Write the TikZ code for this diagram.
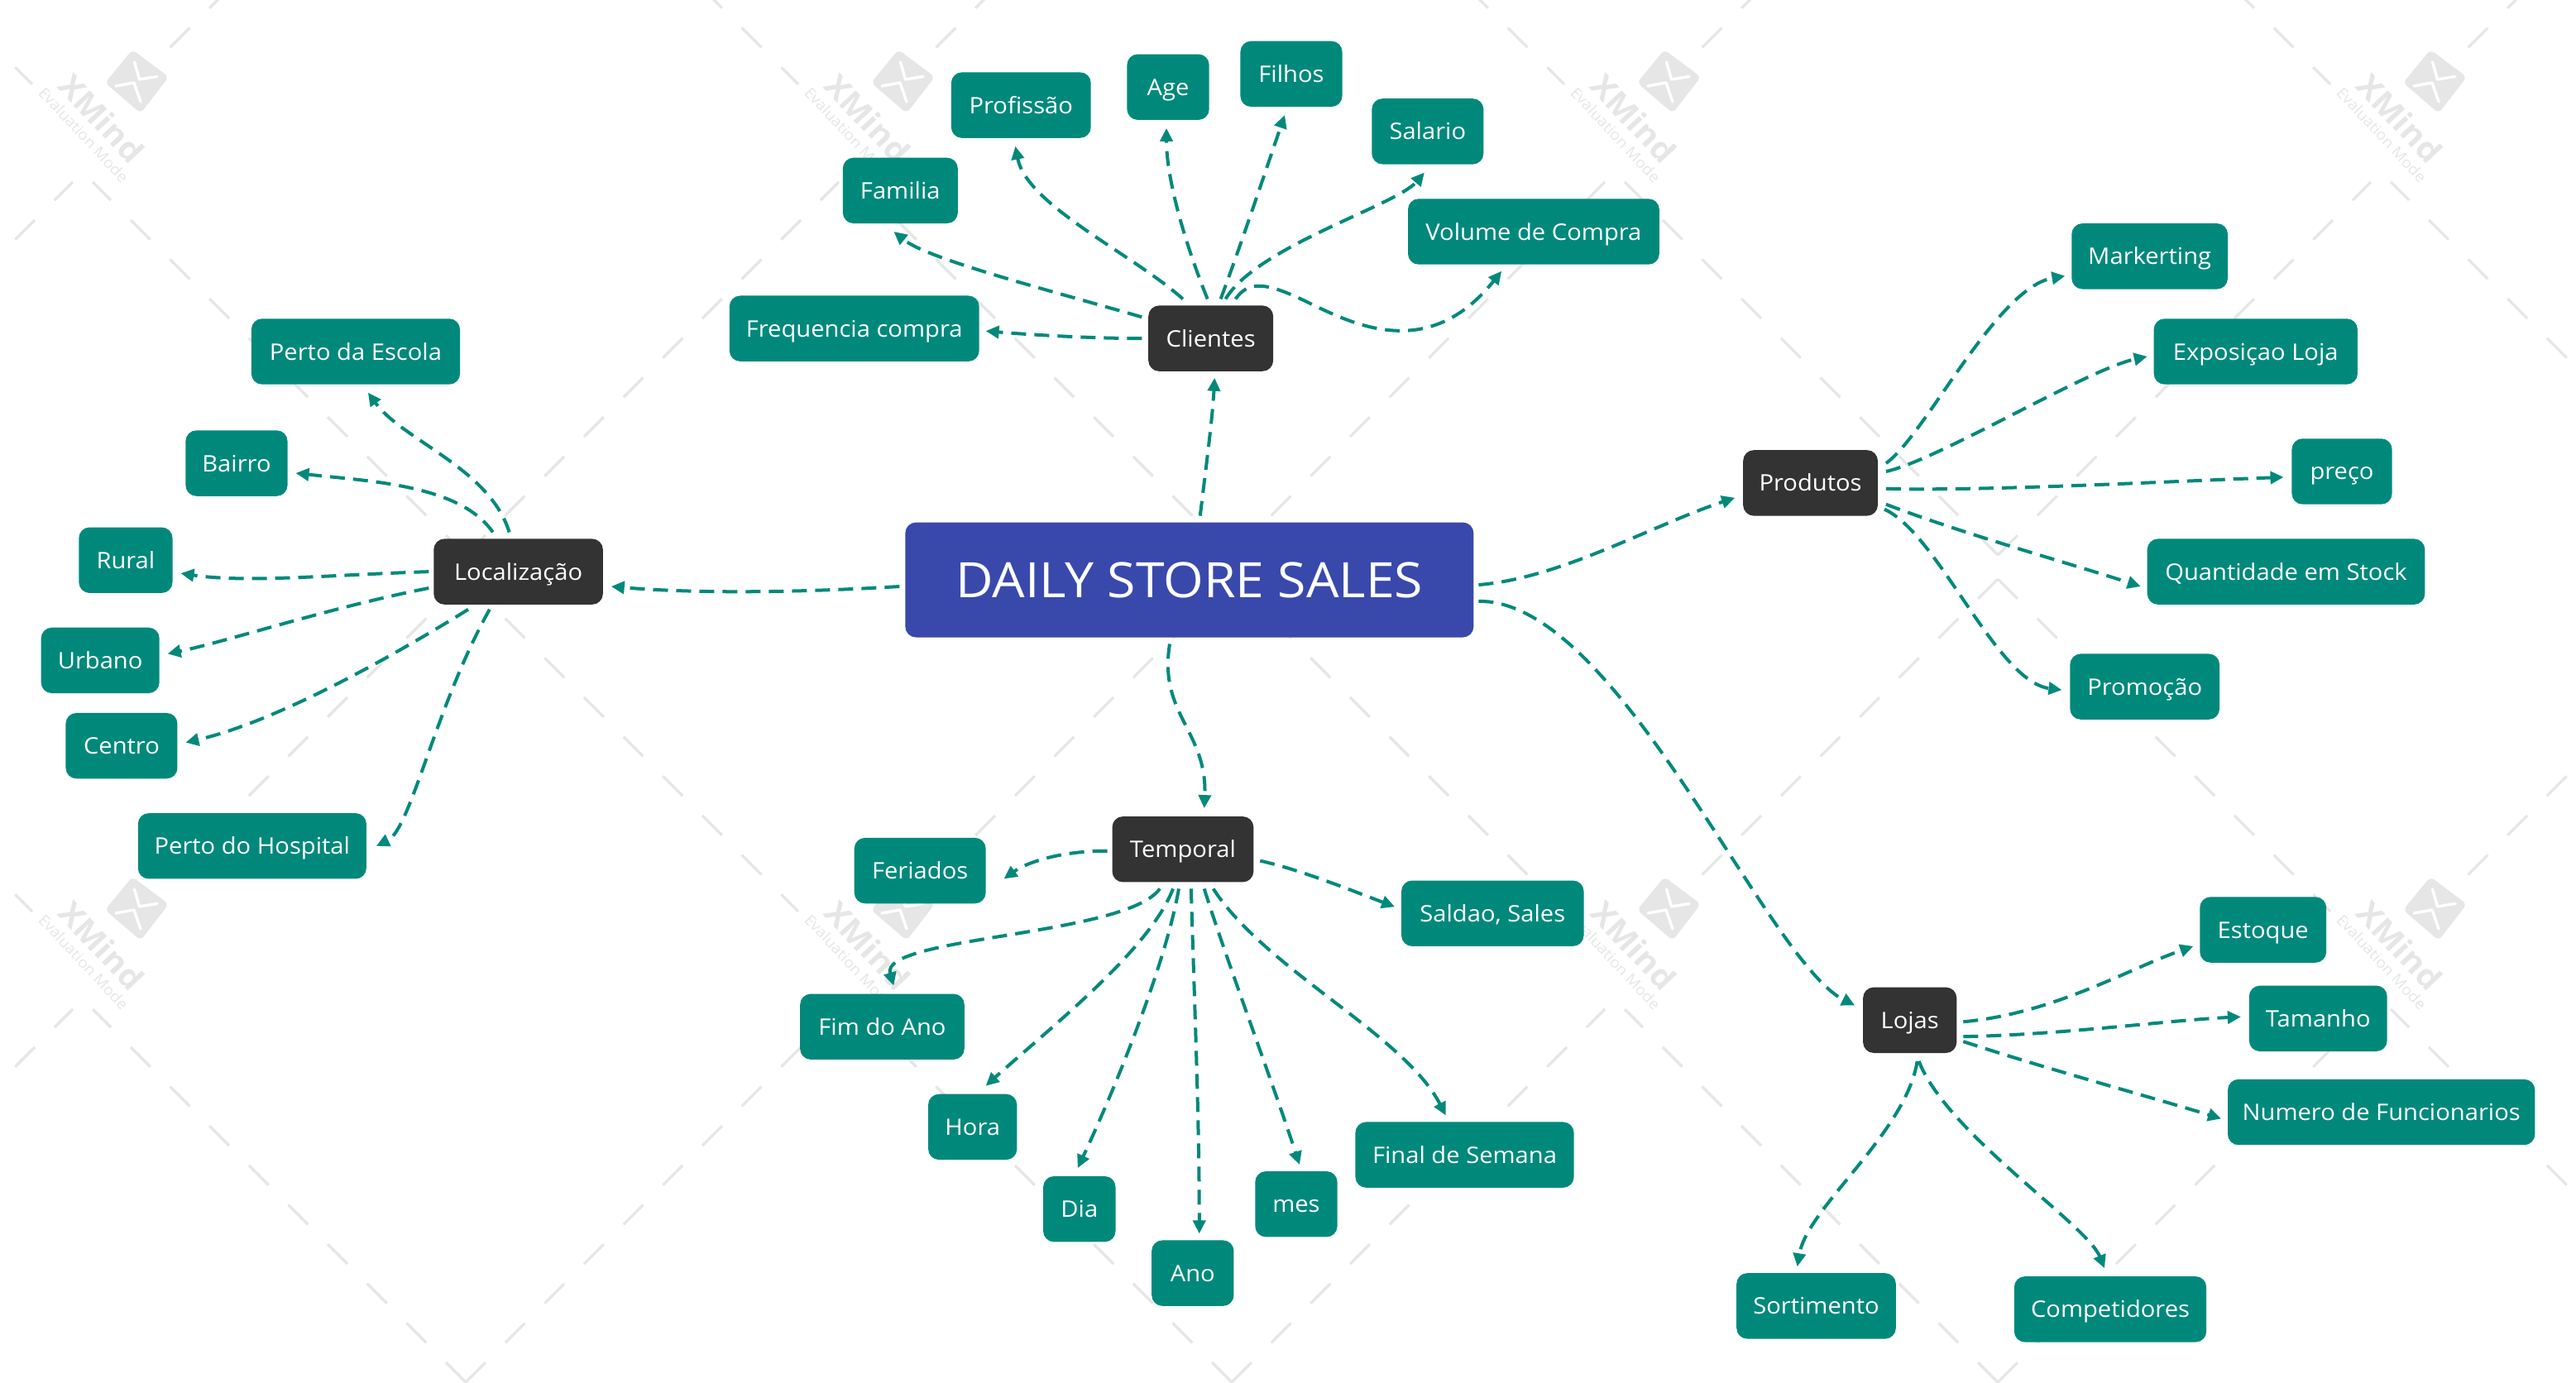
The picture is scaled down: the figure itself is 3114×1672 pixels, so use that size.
\documentclass[tikz,border=0pt]{standalone}
\usepackage{fontspec}
\setmainfont[FakeStretch=1.06]{Open Sans}
\usetikzlibrary{arrows.meta}
\definecolor{teal}{HTML}{00897B}
\definecolor{dark}{HTML}{333333}
\definecolor{indigoroot}{HTML}{3949AB}
\definecolor{wm}{HTML}{E6E6E6}
\tikzset{
  base/.style={rounded corners=13pt,text=white,inner sep=0pt,minimum height=79.4pt,font=\fontsize{27.5}{34}\selectfont,text height=20pt,text depth=0pt,align=center},
  leafbox/.style={base,fill=teal},
  hubbox/.style={base,fill=dark},
  rootbox/.style={rounded corners=13pt,text=white,fill=indigoroot,inner sep=0pt,minimum width=687pt,minimum height=139pt,font=\fontsize{59}{70}\selectfont,text height=42pt,text depth=0pt},
  conn/.style={draw=teal,line width=4pt,dash pattern=on 18pt off 10pt,-{Triangle[length=16pt,width=15pt]}},
  wmline/.style={draw=wm,line width=3.2pt,dash pattern=on 33.7pt off 33.7pt},
}
\newcommand\lnk[8]{\draw[conn] ([shift={(#2,#3)}]#1.center) .. controls (#4) and (#5) .. ([shift={(#7,#8)}]#6.center);}
\newcommand\lf[4]{\node[leafbox,minimum width=#3*1.986pt] (#1) at #2 {#4};}
\newcommand\hb[4]{\node[hubbox,minimum width=#3*1.986pt] (#1) at #2 {#4};}
\begin{document}
\begin{tikzpicture}[x=1.986pt,y=-1.986pt]
\begin{scope}[x=1pt,y=-1pt]
\useasboundingbox (0,0) rectangle (3114,1672);
\clip (0,0) rectangle (3114,1672);
\foreach \r in {-1,0,1}{
 \foreach \c in {-1,0,1,2,3}{
  \begin{scope}[shift={(926*\c,1000*\r)}]
   \draw[wmline] (563,671) -- (112,220);
   \draw[wmline] (563,671) -- (1014,220);
   \draw[wmline] (563,700) -- (965,1102);
   \draw[wmline] (563,700) -- (161,1102);
  \end{scope}
 }
}
\foreach \r in {0,1}{
 \foreach \c in {0,1,2,3}{
  \begin{scope}[shift={(926*\c,1000*\r)}]
   \fill[wm,rounded corners=6pt] (160,60) -- (204,93) -- (170,137) -- (127,100) -- cycle;
   \draw[white,line width=3.4pt,line cap=round,line join=round] (162.5,75) -- (168.5,96) -- (190,92.5);
   \draw[white,line width=3.4pt,line cap=round,line join=round] (140,104) -- (162,100) -- (170,123);
   \node[text=wm,font=\bfseries\fontsize{38}{46}\selectfont,rotate=-47,inner sep=0pt] (xm\r\c) at (123,143) {XMind};
   \node[text=wm,font=\fontsize{18}{24}\selectfont,rotate=-47,inner sep=0pt] (ev\r\c) at (101,163) {Evaluation Mode};
  \end{scope}
 }
}
\end{scope}

\node[rootbox] (root) at (724,353) {DAILY STORE SALES};
\hb{cli}{(737,206)}{76}{Clientes}
\lf{freq}{(520,200)}{152}{Frequencia compra}
\lf{fam}{(548,116)}{70}{Familia}
\lf{prof}{(621.5,64)}{85}{Profissão}
\lf{age}{(711,53)}{50}{Age}
\lf{fil}{(786,45)}{62}{Filhos}
\lf{sal}{(869,80)}{68}{Salario}
\lf{vol}{(933.5,141)}{153}{Volume de Compra}
\hb{prod}{(1102,294)}{82}{Produtos}
\lf{mark}{(1308.5,156)}{95}{Markerting}
\lf{expo}{(1373,214)}{124}{Exposiçao Loja}
\lf{prec}{(1425.5,287)}{61}{preço}
\lf{quant}{(1391.5,348)}{169}{Quantidade em Stock}
\lf{prom}{(1305.5,418)}{91}{Promoção}
\hb{loj}{(1162.5,621)}{57}{Lojas}
\lf{est}{(1377.5,566)}{77}{Estoque}
\lf{tam}{(1411,620)}{84}{Tamanho}
\lf{num}{(1449.5,677)}{187}{Numero de Funcionarios}
\lf{sor}{(1105.5,795)}{97}{Sortimento}
\lf{comp}{(1284.5,797)}{117}{Competidores}
\hb{temp}{(720,517)}{86}{Temporal}
\lf{fer}{(560,530)}{80}{Feriados}
\lf{sald}{(908.5,556)}{111}{Saldao, Sales}
\lf{fim}{(537,625)}{100}{Fim do Ano}
\lf{hora}{(592,686)}{54}{Hora}
\lf{dia}{(657,736)}{44}{Dia}
\lf{ano}{(726,775)}{50}{Ano}
\lf{mes}{(789,733)}{50}{mes}
\lf{fin}{(891.5,703)}{133}{Final de Semana}
\hb{loc}{(315.5,348)}{103}{Localização}
\lf{esc}{(216.5,214)}{127}{Perto da Escola}
\lf{bai}{(144,282)}{62}{Bairro}
\lf{rur}{(76.5,341)}{57}{Rural}
\lf{urb}{(61,402)}{72}{Urbano}
\lf{cen}{(74,454)}{68}{Centro}
\lf{hos}{(153.5,515)}{139}{Perto do Hospital}

\lnk{root}{6.5}{-39}{734,285}{738,255}{cli}{2.3}{24}
\lnk{cli}{-42}{0}{665,206}{630,204}{freq}{80}{1.5}
\lnk{cli}{-42}{-13}{640,177}{565,158}{fam}{-4}{25}
\lnk{cli}{-17}{-24}{690,155}{625,125}{prof}{-3.5}{25}
\lnk{cli}{-2}{-24}{722,150}{710,110}{age}{-1}{25}
\lnk{cli}{6}{-24}{755,150}{770,105}{fil}{-4}{25}
\lnk{cli}{9}{-24}{765,150}{850,125}{sal}{-2}{25}
\draw[conn] ([shift={(15,-24)}]cli.center) .. controls (760,171) and (770,171) .. (798,185) .. controls (825,198) and (870,220) .. ([shift={(-19.5,24)}]vol.center);

\lnk{root}{-176.5}{4}{500,360}{430,362}{loc}{56.5}{9}
\lnk{loc}{-5.5}{-24}{298,285}{245,268}{esc}{7.5}{25}
\lnk{loc}{-15.5}{-24}{280,295}{225,293}{bai}{36}{6}
\lnk{loc}{-54.5}{0}{200,350}{150,355}{rur}{33.5}{8}
\lnk{loc}{-54.5}{10}{200,370}{140,390}{urb}{41}{-4}
\lnk{loc}{-30.5}{23}{230,405}{165,440}{cen}{39}{-2}
\lnk{loc}{-17.5}{23}{265,430}{250,505}{hos}{75.5}{0}

\lnk{root}{176}{3}{950,352}{1005,320}{prod}{-46}{9}
\lnk{prod}{46}{-12}{1172,265}{1215,175}{mark}{-51.5}{12}
\lnk{prod}{46}{-7}{1180,280}{1270,225}{expo}{-66}{3}
\lnk{prod}{46}{3.5}{1210,299}{1320,293}{prec}{-35.5}{3.5}
\lnk{prod}{46}{13}{1195,325}{1260,343}{quant}{-88.5}{9}
\lnk{prod}{45}{16}{1180,325}{1215,415}{prom}{-50.5}{2}

\lnk{root}{176}{13}{985,365}{1075,585}{loj}{-33.5}{-9}
\lnk{loj}{32.5}{1}{1250,617}{1295,590}{est}{-42.5}{10}
\lnk{loj}{32.5}{10}{1255,630}{1320,621}{tam}{-47}{-1}
\lnk{loj}{32.5}{13}{1250,652}{1310,668}{num}{-97.5}{4}
\lnk{loj}{4.5}{25}{1160,690}{1100,735}{sor}{-11.5}{-24}
\lnk{loj}{5.5}{25}{1185,690}{1270,745}{comp}{-3.5}{-25}

\lnk{root}{-12}{39}{705,435}{735,445}{temp}{13}{-25}
\lnk{temp}{-46}{1}{645,518}{625,525}{fer}{51}{5}
\lnk{temp}{47}{7}{790,529}{820,541}{sald}{-59.5}{-4}
\lnk{temp}{-14}{24}{685,570}{535,570}{fim}{7}{-25}
\lnk{temp}{-6}{24}{700,578}{640,625}{hora}{8}{-25}
\lnk{temp}{-2.5}{24}{710,585}{680,660}{dia}{-1}{-25}
\lnk{temp}{5}{24}{727,610}{730,680}{ano}{4}{-24}
\lnk{temp}{13}{24}{745,580}{775,660}{mes}{2}{-24}
\lnk{temp}{18.5}{24}{770,590}{855,630}{fin}{-11.5}{-24}
\end{tikzpicture}
\end{document}
